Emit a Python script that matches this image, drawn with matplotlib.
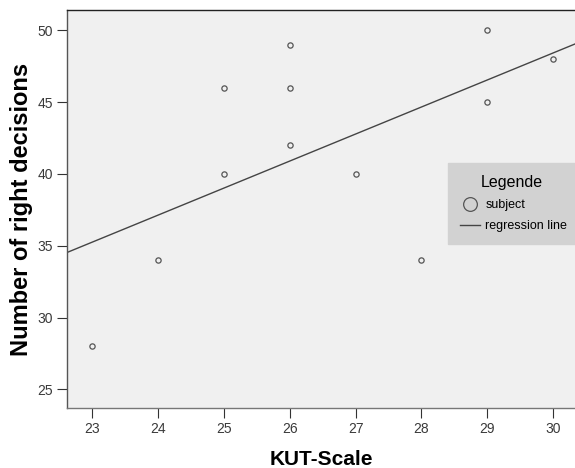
import numpy as np
import matplotlib.pyplot as plt

plt.rcParams['font.family'] = ['Liberation Sans', 'DejaVu Sans']

# KUT-Scale score vs number of right decisions
kut = [23, 24, 25, 25, 26, 26, 26, 27, 28, 29, 29, 30]
right = [28, 34, 46, 40, 49, 46, 42, 40, 34, 50, 45, 48]
xticks = [23, 24, 25, 26, 27, 28, 29, 30]
yticks = [25, 30, 35, 40, 45, 50]

fig = plt.figure(figsize=(5.75, 4.68), dpi=100)
ax = fig.add_axes([0.1165, 0.128, 0.8835, 0.8504])
ax.set_facecolor('#f0f0f0')

xlo, xhi = 22.62, 30.33
ax.set_xlim(xlo, xhi)
ax.set_ylim(23.7, 51.4)

# regression line
b, a = np.polyfit(kut, right, 1)
xs = np.array([xlo, xhi])
ax.plot(xs, a + b*xs, color='#444444', lw=1.0, label='regression line', zorder=2)

ax.plot(kut, right, linestyle='none', marker='o', ms=3.8, mfc='none',
        mec='#555555', mew=0.9, label='subject', zorder=3)

ax.set_xticks(xticks)
ax.set_yticks(yticks)
ax.tick_params(direction='out', length=7, width=0.8, color='#333333', pad=3,
               labelsize=10, labelcolor='#3a3a3a')

ax.spines['right'].set_visible(False)
ax.spines['top'].set_color('#222222')
ax.spines['left'].set_color('#555555')
ax.spines['bottom'].set_color('#777777')
for s in ['top', 'left', 'bottom']:
    ax.spines[s].set_linewidth(1.0)

ax.set_xlabel('KUT-Scale', fontsize=15, fontweight='bold', labelpad=10)
ax.set_ylabel('Number of right decisions', fontsize=17, fontweight='bold', labelpad=3)

h, l = ax.get_legend_handles_labels()
leg = ax.legend([h[1], h[0]], [l[1], l[0]], title='Legende', loc='upper left',
                bbox_to_anchor=(0.75, 0.416, 0.25, 0.2), mode='expand',
                fontsize=9, title_fontsize=11.5,
                markerscale=2.6, handlelength=1.6, handletextpad=0.4,
                labelspacing=0.7, frameon=True, fancybox=False,
                borderaxespad=0, borderpad=1.0)
leg.get_frame().set_facecolor('#d2d2d2')
leg.get_frame().set_edgecolor('#d2d2d2')
leg.get_frame().set_alpha(1)

fig.savefig('out.png', dpi=100)
